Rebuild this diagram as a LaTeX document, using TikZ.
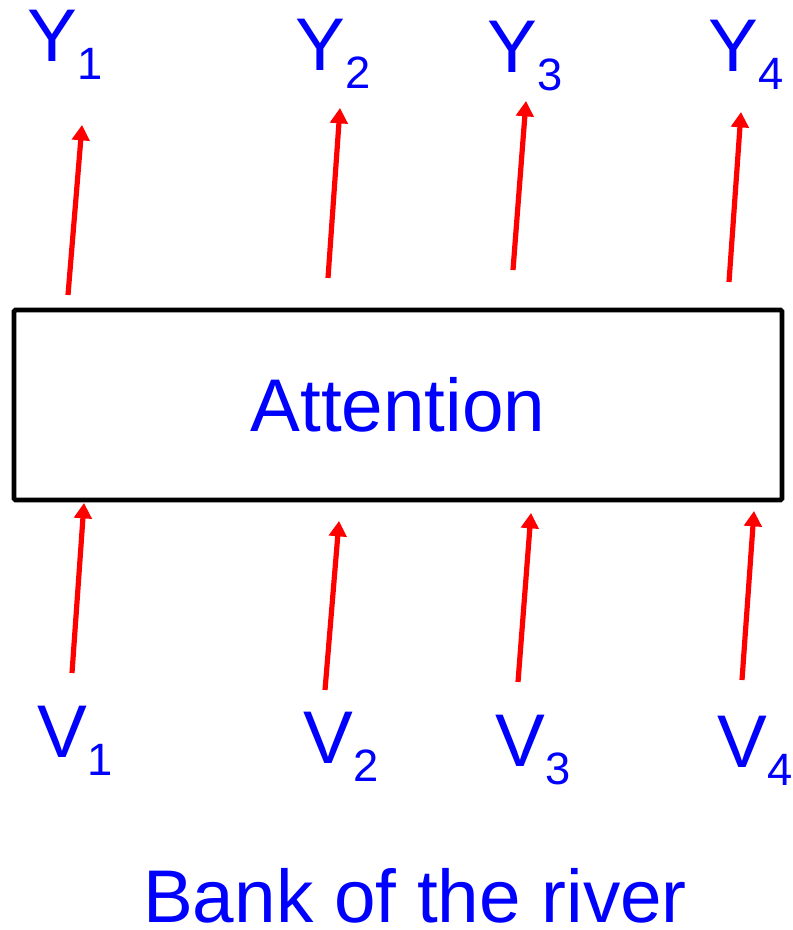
\documentclass[tikz,border=0pt]{standalone}
\usepackage{fontspec}
\setmainfont{Liberation Sans}
\usetikzlibrary{arrows.meta,positioning}

\newcommand{\sublabel}[2]{#1\raisebox{-13.5pt}{\fontsize{34}{34}\selectfont #2}}

\begin{document}
\begin{tikzpicture}[
        x=0.75pt, y=-0.75pt,
        >={Triangle[length=11.5pt,width=13pt]},
        every node/.style={
            text=blue, inner sep=0pt,
            font=\fontsize{56}{60}\selectfont
        },
        word/.style={anchor=base west},
        block/.style={
            draw=black, line width=3.4pt, rounded corners=1pt,
            minimum width=576pt, minimum height=142.5pt
        },
        flow/.style={draw=red, line width=3.9pt, ->}
    ]
    \useasboundingbox (0,0) rectangle (792,930);

    \node[block] (att) at (398,405) {Attention};

    \node[word] (y1) at (27,62) {\sublabel{Y}{1}};
    \node[word] (y2) at (295,71) {\sublabel{Y}{2}};
    \node[word] (y3) at (487,73) {\sublabel{Y}{3}};
    \node[word] (y4) at (708,72) {\sublabel{Y}{4}};

    \node[word] (v1) at (37,757) {\sublabel{V}{1}};
    \node[word] (v2) at (303,763) {\sublabel{V}{2}};
    \node[word] (v3) at (495,766) {\sublabel{V}{3}};
    \node[word] (v4) at (717,767) {\sublabel{V}{4}};

    \node[anchor=base] (bank) at (415,922) {Bank of the river};

    % arrow ends
    \foreach \i/\xa/\ya/\xb/\yb in {1/68/295/82/125, 2/328/278/340/108,
            3/513/270/526/101, 4/729/282/741/112}{
        \coordinate (att out\i) at (\xa,\ya);
        \coordinate (y\i\space tip) at (\xb,\yb);
    }
    \foreach \i/\xa/\ya/\xb/\yb in {1/72/673/84/503, 2/325/690/339/521,
            3/518/682/531/513, 4/742/680/754/511}{
        \coordinate (v\i\space tail) at (\xa,\ya);
        \coordinate (att in\i) at (\xb,\yb);
    }

    \foreach \i in {1,...,4}{
        \draw[flow] (att out\i) -- (y\i\space tip);
        \draw[flow] (v\i\space tail) -- (att in\i);
    }
\end{tikzpicture}
\end{document}
